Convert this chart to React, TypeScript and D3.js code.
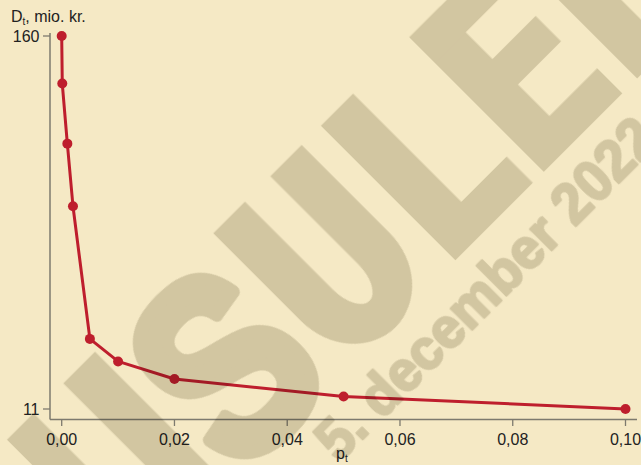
import React from "react";
import * as d3 from "d3";

const xValues = [0, 0.0001, 0.001, 0.002, 0.005, 0.01, 0.02, 0.05, 0.1];
const yValues = [160, 141, 117, 92, 39, 30, 23, 16, 11];
const xTicks = [0, 0.02, 0.04, 0.06, 0.08, 0.1];
const yTicks = [11, 160];
const watermarkDate = "5. december 2022";

const W = 641;
const H = 465;
const BG = "#f5e9c5";
const WM = "#dbd9d1";
const RED = "#be1e2d";
const AXIS = "#7d7a6e";
const FONT = "'Liberation Sans', Arial, sans-serif";

export default function App() {
  const x = d3.scaleLinear().domain([0, 0.1]).range([61.7, 625.5]);
  const y = d3.scaleLinear().domain([11, 160]).range([409, 36]);
  const fmt = (v: number) => d3.format(".2f")(v).replace(".", ",");
  const data = xValues.map((v, i) => [v, yValues[i]] as [number, number]);
  const line = d3
    .line<[number, number]>()
    .x((d) => x(d[0]))
    .y((d) => y(d[1]));

  const top = 315.8;
  const base = 506;
  const capH = base - top;

  return (
    <svg
      width={W}
      height={H}
      style={{ position: "absolute", left: 0, top: 0 }}
      fontFamily={FONT}
    >
      <rect x={0} y={0} width={W} height={H} fill={BG} />

      {/* axes */}
      <line x1={50} x2={50} y1={33} y2={419.5} stroke={AXIS} strokeWidth={1.5} />
      <line x1={50} x2={637} y1={419.5} y2={419.5} stroke={AXIS} strokeWidth={1.5} />
      {yTicks.map((t) => (
        <g key={"y" + t}>
          <line x1={43} x2={50} y1={y(t)} y2={y(t)} stroke={AXIS} strokeWidth={1.3} />
          <text x={39.5} y={y(t) + 5.5} textAnchor="end" fontSize={16} fill="#222">
            {t}
          </text>
        </g>
      ))}
      {xTicks.map((t) => (
        <g key={"x" + t}>
          <line x1={x(t)} x2={x(t)} y1={419.5} y2={426} stroke={AXIS} strokeWidth={1.3} />
          <text x={x(t)} y={445} textAnchor="middle" fontSize={16} fill="#222">
            {fmt(t)}
          </text>
        </g>
      ))}
      <text x={11} y={22} fontSize={16} fill="#222">
        D<tspan fontSize={10} dy={3}>t</tspan>
        <tspan dy={-3}>, mio. kr.</tspan>
      </text>
      <text x={336} y={459} fontSize={16} fill="#222">
        p<tspan fontSize={10} dy={3}>t</tspan>
      </text>

      {/* data */}
      <path d={line(data) || ""} fill="none" stroke={RED} strokeWidth={3} strokeLinejoin="round" />
      {data.map((d, i) => (
        <circle key={i} cx={x(d[0])} cy={y(d[1])} r={5} fill={RED} />
      ))}

      {/* watermark (multiplied over the chart) */}
      <g transform="rotate(-45)" fill={WM} style={{ mixBlendMode: "multiply" }}>
        <rect x={-306} y={top} width={37.5} height={capH} />
        <rect x={-226.3} y={top} width={44.8} height={capH} />
        <text
          transform={`translate(-170,${base}) scale(0.825,1)`}
          fontSize={257}
          fontWeight="bold"
          stroke={WM}
          strokeWidth={14}
          strokeLinejoin="round"
        >
          S
        </text>
        <path
          d={`M -14.1 ${top} L -14.1 440 A 62.45 71 0 0 0 110.8 440 L 110.8 ${top} L 66.5 ${top} L 66.5 440 A 17.95 34 0 0 1 30.6 440 L 30.6 ${top} Z`}
        />
        <rect x={138} y={top} width={45.5} height={capH} />
        <rect x={138} y={469} width={109.5} height={base - 469} />
        <rect x={263} y={top} width={43.5} height={capH} />
        <rect x={263} y={top} width={111} height={36.3} />
        <rect x={263} y={390} width={104.5} height={36} />
        <rect x={263} y={470.5} width={111} height={base - 470.5} />
        <rect x={395} y={top} width={44.5} height={capH} />
        <text
          x={-88}
          y={567}
          fontSize={58}
          fontWeight="bold"
          fontFamily="'Liberation Sans Narrow', 'Liberation Sans', Arial, sans-serif"
          textLength={455}
          lengthAdjust="spacingAndGlyphs"
          stroke={WM}
          strokeWidth={2.5}
          strokeLinejoin="round"
        >
          {watermarkDate}
        </text>
      </g>
    </svg>
  );
}
